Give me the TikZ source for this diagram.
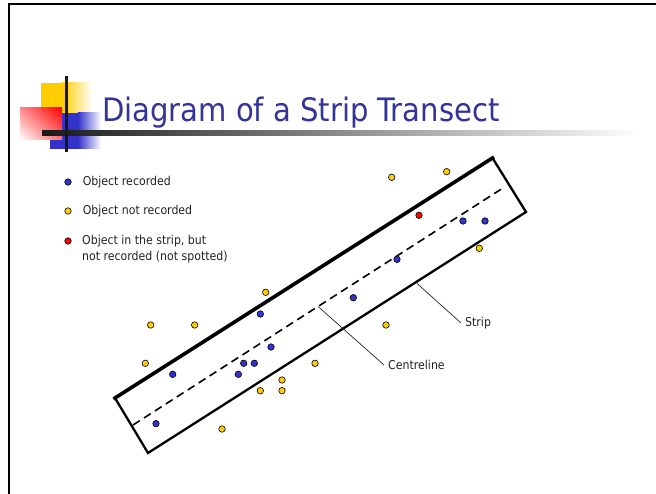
\documentclass[tikz,border=0pt]{standalone}
\usepackage{fontspec}
\setmainfont{DejaVu Sans Condensed}
\usetikzlibrary{positioning, calc, shadings}
\definecolor{ttlblue}{HTML}{333399}
\definecolor{dotblue}{HTML}{3333CC}
\definecolor{dotyellow}{HTML}{FFCC00}
\definecolor{dotred}{HTML}{FF0000}
\definecolor{logored}{HTML}{FF0000}
\definecolor{inktext}{HTML}{222222}

\tikzset{
  obj/.style={circle, draw=black, line width=0.6pt, inner sep=0pt, minimum size=6.5pt},
  recorded/.style={obj, fill=dotblue},
  missed/.style={obj, fill=dotyellow},
  unseen/.style={obj, fill=dotred},
  keytext/.style={inner sep=0pt, text=inktext, font=\fontsize{12.2}{16}\selectfont, align=left},
  leader/.style={line width=0.7pt, black!85},
  lbl/.style={anchor=west, inner sep=4pt, text=inktext, font=\fontsize{12.2}{16}\selectfont},
}

\begin{document}
\begin{tikzpicture}[x=1pt, y=-1pt]
        \useasboundingbox (0,0) rectangle (656,494);
        \draw[line width=2pt] (9,494) -- (9,4.3) -- (656,4.3);

        \fill[dotyellow] (41,83) rectangle (62,114);
        \shade[left color=dotyellow, right color=white] (62,83) rectangle (92,114);
        \fill[dotblue] (50,113) rectangle (78,149);
        \shade[left color=dotblue, right color=white] (78,113) rectangle (101,149);
        \shade[upper right=logored, upper left=logored!45!white, lower right=logored!55!white, lower left=white] (20,108) rectangle (62,140);
        \shade[left color=black!90, right color=white] (42,131) rectangle (640,135.5);
        \fill[black!90] (64.5,76) rectangle (68,152);
        \node[anchor=base west, inner sep=0pt, text=ttlblue, font=\fontsize{32.3}{40}\selectfont] (title) at (102,122) {Diagram of a Strip Transect};

        \node[recorded] (keyrec) at (68,182) {};
        \node[keytext, right=11pt of keyrec] (txtrec) {Object recorded};
        \node[missed] (keymiss) at (68,211) {};
        \node[keytext, right=11pt of keymiss] (txtmiss) {Object not recorded};
        \node[unseen] (keyunseen) at (68,241) {};
        \node[keytext, anchor=north west] (txtunseen) at (82,235.5) {Object in the strip, but\\not recorded (not spotted)};

        \coordinate (sTL) at (115,398);
        \coordinate (sTR) at (492.5,158);
        \coordinate (sBR) at (526,212);
        \coordinate (sBL) at (148,453);
        \draw[line width=2.3pt, line join=miter] (sTR) -- (sBR) -- (sBL) -- (sTL);
        \draw[line width=3.6pt, line cap=rect] (sTL) -- (sTR);
        \coordinate (cl1) at (133,425);
        \coordinate (cl2) at (503,188);
        \draw[line width=1.6pt, dash pattern=on 8pt off 5pt] (cl1) -- (cl2);

        \foreach \px/\py [count=\i] in {391.7/177.3, 446.7/171.7, 479.3/248.3, 265.7/292.3, 150.7/325, 194.7/325, 386/325, 145.3/363.3, 315/363.3, 282/380, 260.3/390.7, 282/390.7, 222/429}
          \node[missed] (y\i) at (\px,\py) {};
        \foreach \px/\py [count=\i] in {463/221, 485/221, 397/259.3, 353.3/297.7, 260.3/314, 271/347, 243.7/363.3, 254.3/363.3, 238.3/374.3, 172.7/374.3, 156/423.7}
          \node[recorded] (b\i) at (\px,\py) {};
        \node[unseen] (r1) at (419,215.3) {};

        \coordinate (stripfoot) at (417,283.5);
        \node[lbl] (striplbl) at (461,323) {Strip};
        \draw[leader] (stripfoot) -- (striplbl.west);
        \coordinate (clfoot) at (318.3,306.7);
        \node[lbl] (cllbl) at (384,365) {Centreline};
        \draw[leader] (clfoot) -- (cllbl.west);
      \end{tikzpicture}
\end{document}
